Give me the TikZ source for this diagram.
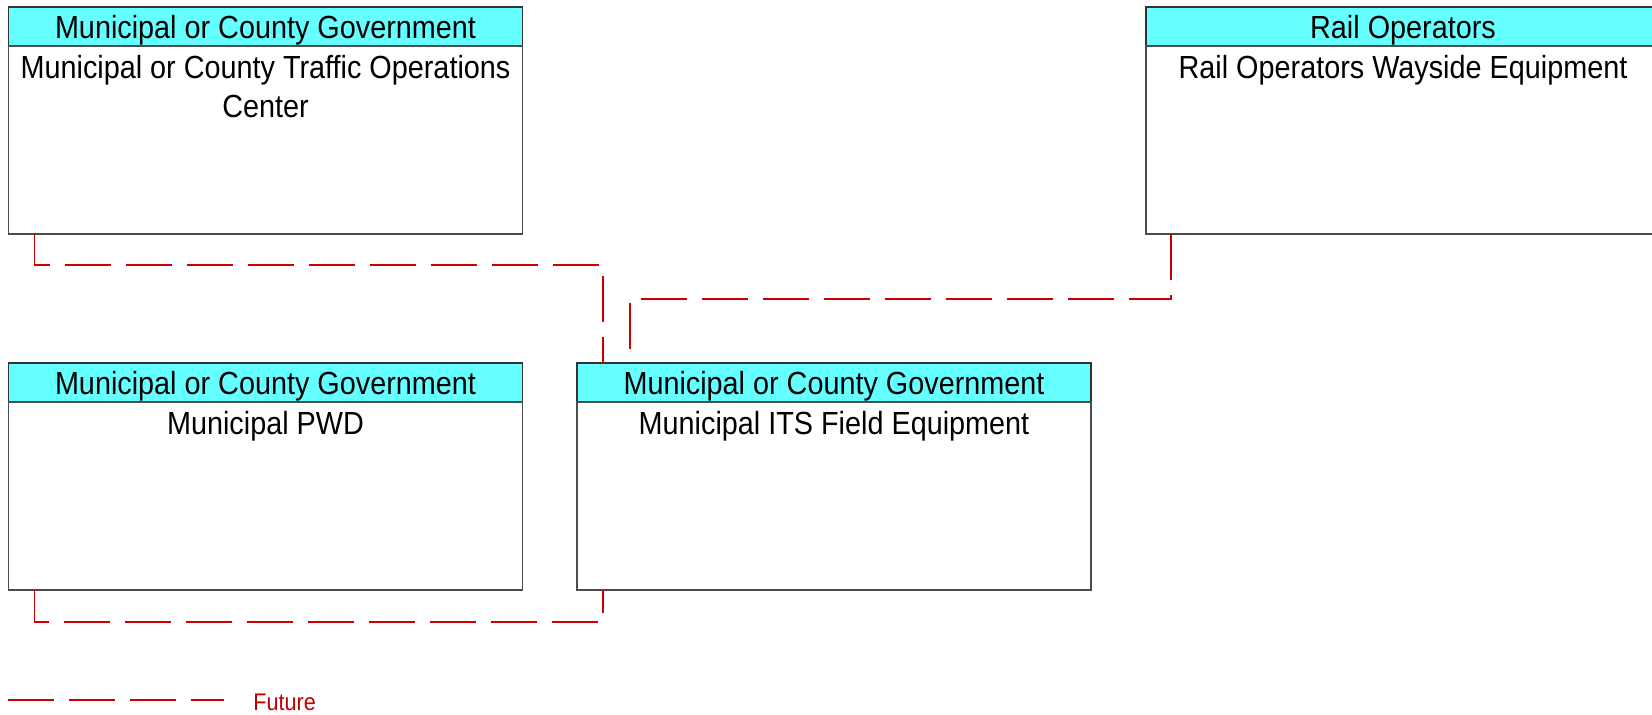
\documentclass[tikz,border=0pt]{standalone}
\usepackage{fontspec}
\setmainfont{Liberation Sans}[FakeStretch=0.9]
\usetikzlibrary{positioning}
\definecolor{headcyan}{RGB}{102,255,255}
\definecolor{futurered}{RGB}{204,0,0}
\definecolor{legendred}{RGB}{192,0,0}

\begin{document}
\begin{tikzpicture}[
    x=0.5pt, y=-0.5pt,
    node distance=0pt,
    head/.style={
        rectangle,
        draw=black!80,
        fill=headcyan,
        line width=0.7pt,
        minimum width=257pt,
        minimum height=19.5pt,
        inner sep=0pt,
        outer sep=0pt,
        text height=11.65pt,
        text depth=0pt,
        font=\fontsize{16}{19.5}\selectfont,
        anchor=north west
    },
    body/.style={
        rectangle,
        draw=black!70,
        fill=white,
        line width=0.7pt,
        minimum width=257pt,
        minimum height=94pt,
        inner sep=0pt,
        outer sep=0pt
    },
    bodytext/.style={align=center, inner sep=0pt, font=\fontsize{16}{19.5}\selectfont},
    future/.style={draw=futurered, line width=0.6pt, dash pattern=on 23pt off 7.5pt}
]
    \useasboundingbox (0,0) rectangle (1652,714);

    \node [head] (tochead) at (8.5,7) {Municipal or County Government};
    \node [body, below=of tochead] (tocbody) {};
    \node [bodytext, below=4.4pt of tochead] (tocname) {Municipal or County Traffic Operations\\Center};

    \node [head] (railhead) at (1146,7) {Rail Operators};
    \node [body, below=of railhead] (railbody) {};
    \node [bodytext, below=4.4pt of railhead] (railname) {Rail Operators Wayside Equipment};

    \node [head] (pwdhead) at (8.5,363) {Municipal or County Government};
    \node [body, below=of pwdhead] (pwdbody) {};
    \node [bodytext, below=4.4pt of pwdhead] (pwdname) {Municipal PWD};

    \node [head] (itshead) at (577,363) {Municipal or County Government};
    \node [body, below=of itshead] (itsbody) {};
    \node [bodytext, below=4.4pt of itshead] (itsname) {Municipal ITS Field Equipment};

    \draw [future] ([xshift=13pt]tocbody.south west) -- ++(0,31) -| ([xshift=13pt]itshead.north west);
    \draw [future] ([xshift=12.5pt]railbody.south west) -- ++(0,65) -| ([xshift=26.5pt]itshead.north west);
    \draw [future] ([xshift=13pt]pwdbody.south west) -- ++(0,32) -| ([xshift=13pt]itsbody.south west);

    \coordinate (futstart) at (8,700);
    \coordinate (futend) at (224,700);
    \draw [future] (futstart) -- (futend);
    \node [anchor=base west, inner sep=0pt, text=legendred, font=\fontsize{12}{14}\selectfont] (futlabel) at (253,710.5) {Future};
\end{tikzpicture}
\end{document}
